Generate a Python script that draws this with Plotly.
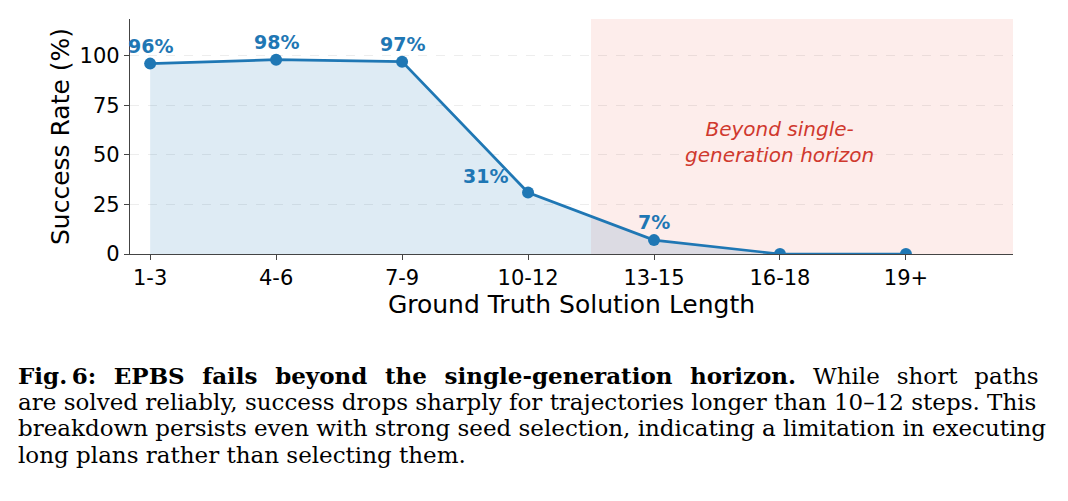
import plotly.graph_objects as go

categories = ["1-3", "4-6", "7-9", "10-12", "13-15", "16-18", "19+"]
success = [96, 98, 97, 31, 7, 0, 0]
yticks = [0, 25, 50, 75, 100]
caption_lines = [
    "<b>Fig.\u20096: EPBS fails beyond the single-generation horizon.</b> While short paths",
    "are solved reliably, success drops sharply for trajectories longer than 10–12 steps. This",
    "breakdown persists even with strong seed selection, indicating a limitation in executing",
    "long plans rather than selecting them.",
]
# extra inter-word space to imitate the justified caption (per line)
caption_pad = ["\u2005\u2006", "", "", ""]

blue = "#1f77b4"
xs = list(range(len(categories)))

fig = go.Figure()
fig.add_shape(type="rect", xref="x", yref="paper", x0=3.5, x1=6.85, y0=0, y1=1,
              fillcolor="rgba(231,76,60,0.10)", line_width=0, layer="below")
fig.add_trace(go.Scatter(x=xs, y=success, mode="lines+markers", fill="tozeroy",
                         fillcolor="rgba(31,119,180,0.15)",
                         line=dict(color=blue, width=2.7),
                         marker=dict(color=blue, size=12), showlegend=False))

for i, v in enumerate(success):
    if v <= 0:
        continue
    if categories[i] == "10-12":
        fig.add_annotation(x=i, y=v, text=f"<b>{v}%</b>", showarrow=False,
                           xanchor="right", yanchor="bottom", xshift=-18, yshift=4,
                           font=dict(family="DejaVu Sans", size=19, color=blue))
    else:
        fig.add_annotation(x=i, y=v, text=f"<b>{v}%</b>", showarrow=False,
                           yanchor="bottom", yshift=5,
                           font=dict(family="DejaVu Sans", size=19, color=blue))

fig.add_annotation(x=5, y=56.5, text="<i>Beyond single-<br>generation horizon</i>",
                   showarrow=False, font=dict(family="DejaVu Sans", size=20, color="#d0392e"))

for k, line in enumerate(caption_lines):
    txt = line.replace(" ", " " + caption_pad[k]) if caption_pad[k] else line
    fig.add_annotation(xref="paper", yref="paper", x=(16 - 130) / 883,
                       y=(501 - 247 - (375 + 26.7 * k)) / 235,
                       text=txt, showarrow=False, xanchor="left", yanchor="middle",
                       font=dict(family="DejaVu Serif", size=23, color="black"))

fig.update_layout(
    width=1068, height=501,
    margin=dict(l=130, r=55, t=19, b=247),
    plot_bgcolor="white", paper_bgcolor="white",
    xaxis=dict(range=[-0.16, 6.85], tickvals=xs, ticktext=categories,
               showline=True, linecolor="#444", linewidth=1.2, ticks="outside",
               ticklen=5, tickcolor="#444", showgrid=False, zeroline=False,
               tickfont=dict(family="DejaVu Sans", size=21, color="black"),
               title=dict(text="Ground Truth Solution Length", standoff=0,
                          font=dict(family="DejaVu Sans", size=25, color="black"))),
    yaxis=dict(range=[0, 118.5], tickvals=yticks, showline=True, linecolor="#444",
               linewidth=1.2, ticks="outside", ticklen=5, tickcolor="#444",
               showgrid=True, gridcolor="rgba(0,0,0,0.07)", griddash="dash",
               zeroline=False,
               tickfont=dict(family="DejaVu Sans", size=21, color="black"),
               title=dict(text="Success Rate (%)", standoff=2,
                          font=dict(family="DejaVu Sans", size=25, color="black"))),
)

fig.write_html("out.html")
